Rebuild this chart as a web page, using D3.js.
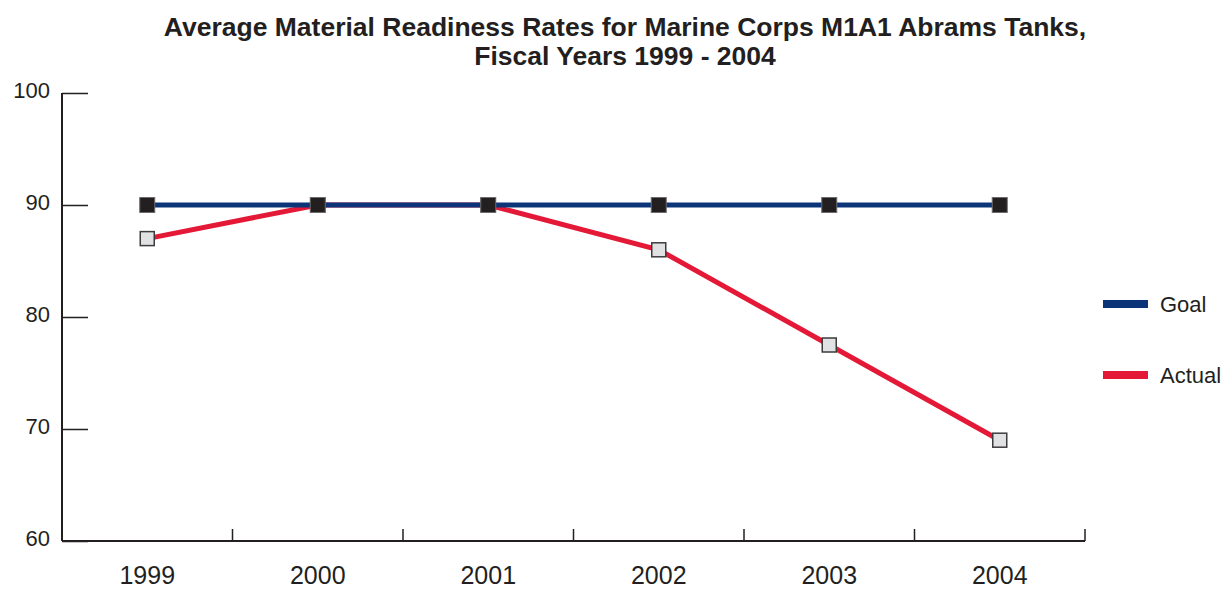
<!DOCTYPE html>
<html>
<head>
<meta charset="utf-8">
<script src="https://cdn.jsdelivr.net/npm/d3@7"></script>
<style>
  body { margin: 0; background: #fff; }
  svg text { font-family: "Liberation Sans", Arial, Helvetica, sans-serif; fill: #231f20; }
</style>
</head>
<body>
<div id="chart"></div>
<script>
const years = ['1999', '2000', '2001', '2002', '2003', '2004'];
const goal = [90, 90, 90, 90, 90, 90];
const actual = [87, 90, 90, 86, 77.5, 69];
const yTicks = [60, 70, 80, 90, 100];
const titleLines = ['Average Material Readiness Rates for Marine Corps M1A1 Abrams Tanks,', 'Fiscal Years 1999 - 2004'];
const seriesNames = ['Goal', 'Actual'];

const width = 1230;
const height = 590;
const margin = { top: 93, right: 145, bottom: 49, left: 62 };

const svg = d3.select('#chart').append('svg')
  .attr('width', width)
  .attr('height', height);

// title
svg.append('g')
  .selectAll('text')
  .data(titleLines)
  .enter()
  .append('text')
  .attr('x', 625)
  .attr('y', (d, i) => 36 + i * 29)
  .attr('text-anchor', 'middle')
  .attr('font-size', '26.5px')
  .attr('font-weight', 'bold')
  .text(d => d);

// scales
const xScale = d3.scaleBand()
  .domain(years)
  .range([margin.left, width - margin.right]);
const yScale = d3.scaleLinear()
  .domain([60, 100])
  .range([height - margin.bottom, margin.top]);

// y axis
const yAxis = svg.append('g')
  .attr('transform', 'translate(' + margin.left + ',0)')
  .call(d3.axisRight(yScale).tickValues(yTicks).tickSize(26).tickFormat(''));
yAxis.select('.domain').remove();
yAxis.selectAll('line').attr('stroke', '#231f20').attr('stroke-width', 1.5);
svg.append('line')
  .attr('x1', margin.left).attr('x2', margin.left)
  .attr('y1', yScale(100)).attr('y2', yScale(60))
  .attr('stroke', '#231f20').attr('stroke-width', 2);
svg.append('g')
  .selectAll('text')
  .data(yTicks)
  .enter()
  .append('text')
  .attr('x', 50)
  .attr('y', d => yScale(d) + 5)
  .attr('text-anchor', 'end')
  .attr('font-size', '22px')
  .text(d => d);

// x axis
const xAxis = svg.append('g')
  .attr('transform', 'translate(0,' + yScale(60) + ')');
xAxis.append('line')
  .attr('x1', margin.left).attr('x2', width - margin.right)
  .attr('stroke', '#231f20').attr('stroke-width', 2);
xAxis.selectAll('.xtick')
  .data(years.slice(1))
  .enter()
  .append('line')
  .attr('x1', d => xScale(d))
  .attr('x2', d => xScale(d))
  .attr('y1', 0)
  .attr('y2', -12)
  .attr('stroke', '#231f20').attr('stroke-width', 1.5);
xAxis.append('line')
  .attr('x1', width - margin.right).attr('x2', width - margin.right)
  .attr('y1', 0).attr('y2', -12)
  .attr('stroke', '#231f20').attr('stroke-width', 1.5);
xAxis.selectAll('.xlabel')
  .data(years)
  .enter()
  .append('text')
  .attr('x', d => xScale(d) + xScale.bandwidth() / 2)
  .attr('y', 43)
  .attr('text-anchor', 'middle')
  .attr('font-size', '25px')
  .text(d => d);

// lines
const cx = (d, i) => xScale(years[i]) + xScale.bandwidth() / 2;
const line = d3.line()
  .x(cx)
  .y(d => yScale(d));
svg.append('path')
  .datum(actual)
  .attr('d', line)
  .attr('fill', 'none')
  .attr('stroke', '#e31937')
  .attr('stroke-width', 5);
svg.append('path')
  .datum(goal)
  .attr('d', line)
  .attr('fill', 'none')
  .attr('stroke', '#0c3479')
  .attr('stroke-width', 5);

// markers
const size = 14;
svg.selectAll('.actual-mark')
  .data(actual)
  .enter()
  .append('rect')
  .attr('x', (d, i) => cx(d, i) - size / 2)
  .attr('y', d => yScale(d) - size / 2)
  .attr('width', size)
  .attr('height', size)
  .attr('fill', '#e0e1e3')
  .attr('stroke', '#3d3b3c')
  .attr('stroke-width', 1.5);
svg.selectAll('.goal-mark')
  .data(goal)
  .enter()
  .append('rect')
  .attr('x', (d, i) => cx(d, i) - (size + 1) / 2)
  .attr('y', d => yScale(d) - (size + 1) / 2)
  .attr('width', size + 1)
  .attr('height', size + 1)
  .attr('fill', '#231f20')
  .attr('stroke', '#6d6b6c')
  .attr('stroke-width', 1);

// legend
const legend = svg.selectAll('.legend')
  .data(seriesNames)
  .enter()
  .append('g')
  .attr('transform', (d, i) => 'translate(1103,' + (304 + i * 71) + ')');
legend.append('line')
  .attr('x1', 0).attr('x2', 45)
  .attr('stroke', (d, i) => i === 0 ? '#0c3479' : '#e31937')
  .attr('stroke-width', 8);
legend.append('text')
  .attr('x', 57)
  .attr('y', 8)
  .attr('font-size', '22px')
  .text(d => d);
</script>
</body>
</html>
